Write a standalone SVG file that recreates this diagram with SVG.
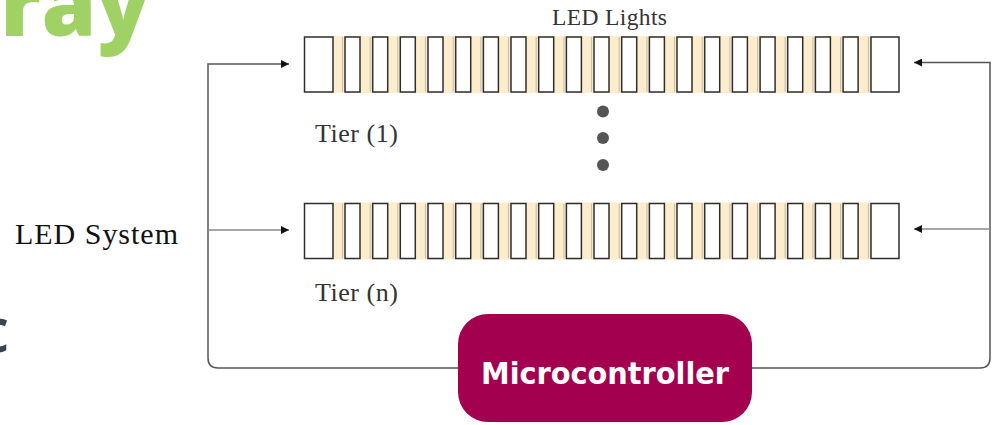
<svg xmlns="http://www.w3.org/2000/svg" xmlns:xlink="http://www.w3.org/1999/xlink" width="994" height="425" viewBox="0 0 994 425">
<style>
.cell{fill:#fff;stroke:#2e2e2e;stroke-width:1.5}
.band{fill:#fcedcc}
.shade{stroke:#cbc3b2;stroke-width:1.2}
.conn{fill:none;stroke:#8a8a8a;stroke-width:1.6}
.loop{fill:none;stroke:#555;stroke-width:1.5}
.serif{font-family:"Liberation Serif","Times New Roman",serif}
.lbl{fill:#333;font-size:26px}
.dot{fill:#555}
</style>
<defs>
<marker id="ah" viewBox="0 0 10 10" refX="10" refY="5" markerWidth="9" markerHeight="8" markerUnits="userSpaceOnUse" orient="auto">
<path d="M0,0 L10,5 L0,10 z" fill="#111"/>
</marker>
<g id="strip">
<rect class="band" x="333" y="-1" width="538" height="57"/>
<g class="shade">
<line x1="342.5" y1="0" x2="342.5" y2="55"/><line x1="370.2" y1="0" x2="370.2" y2="55"/><line x1="397.8" y1="0" x2="397.8" y2="55"/><line x1="425.5" y1="0" x2="425.5" y2="55"/><line x1="453.2" y1="0" x2="453.2" y2="55"/><line x1="480.9" y1="0" x2="480.9" y2="55"/><line x1="508.5" y1="0" x2="508.5" y2="55"/><line x1="536.2" y1="0" x2="536.2" y2="55"/><line x1="563.9" y1="0" x2="563.9" y2="55"/><line x1="591.5" y1="0" x2="591.5" y2="55"/><line x1="619.2" y1="0" x2="619.2" y2="55"/><line x1="646.9" y1="0" x2="646.9" y2="55"/><line x1="674.5" y1="0" x2="674.5" y2="55"/><line x1="702.2" y1="0" x2="702.2" y2="55"/><line x1="729.9" y1="0" x2="729.9" y2="55"/><line x1="757.6" y1="0" x2="757.6" y2="55"/><line x1="785.2" y1="0" x2="785.2" y2="55"/><line x1="812.9" y1="0" x2="812.9" y2="55"/><line x1="840.6" y1="0" x2="840.6" y2="55"/><line x1="868.5" y1="0" x2="868.5" y2="55"/>
</g>
<rect class="cell" x="304.5" y="0" width="28.5" height="55"/>
<rect class="cell" x="345" y="0" width="15" height="55"/>
<rect class="cell" x="372.7" y="0" width="15" height="55"/>
<rect class="cell" x="400.3" y="0" width="15" height="55"/>
<rect class="cell" x="428" y="0" width="15" height="55"/>
<rect class="cell" x="455.7" y="0" width="15" height="55"/>
<rect class="cell" x="483.4" y="0" width="15" height="55"/>
<rect class="cell" x="511" y="0" width="15" height="55"/>
<rect class="cell" x="538.7" y="0" width="15" height="55"/>
<rect class="cell" x="566.4" y="0" width="15" height="55"/>
<rect class="cell" x="594" y="0" width="15" height="55"/>
<rect class="cell" x="621.7" y="0" width="15" height="55"/>
<rect class="cell" x="649.4" y="0" width="15" height="55"/>
<rect class="cell" x="677" y="0" width="15" height="55"/>
<rect class="cell" x="704.7" y="0" width="15" height="55"/>
<rect class="cell" x="732.4" y="0" width="15" height="55"/>
<rect class="cell" x="760.1" y="0" width="15" height="55"/>
<rect class="cell" x="787.7" y="0" width="15" height="55"/>
<rect class="cell" x="815.4" y="0" width="15" height="55"/>
<rect class="cell" x="843.1" y="0" width="15" height="55"/>
<rect class="cell" x="871" y="0" width="28" height="55"/>
</g>
</defs>
<rect width="994" height="425" fill="#fff"/>

<!-- cropped background lettering -->
<text x="150" y="36" text-anchor="end" font-family="'Open Sans','Noto Sans',sans-serif" font-weight="800" font-size="88" fill="#9fd164">ray</text>
<text x="9" y="352" text-anchor="end" font-family="'Open Sans','Noto Sans',sans-serif" font-weight="600" font-size="62" fill="#3d4550">c</text>

<g id="connectors">
<path class="loop" d="M458,368 H218 Q208,368 208,358 V64 H289" marker-end="url(#ah)"/>
<path class="conn" d="M208,230 H289" marker-end="url(#ah)"/>
<path class="loop" d="M752,368 H980 Q990,368 990,358 V62.5 H914" marker-end="url(#ah)"/>
<path class="conn" d="M990,229 H914" marker-end="url(#ah)"/>
</g>

<g id="tier1">
<use xlink:href="#strip" href="#strip" x="0" y="37"/>
<text class="serif lbl" x="315" y="142" textLength="83">Tier (1)</text>
</g>

<g id="ellipsis">
<circle class="dot" cx="603" cy="111.5" r="6"/>
<circle class="dot" cx="603" cy="138" r="6"/>
<circle class="dot" cx="603" cy="165" r="6"/>
</g>

<g id="tierN">
<use xlink:href="#strip" href="#strip" x="0" y="203.5"/>
<text class="serif lbl" x="315" y="301" textLength="83">Tier (n)</text>
</g>

<g id="led-lights-label">
<text class="serif" x="552" y="25" font-size="23.5" fill="#333" textLength="115">LED Lights</text>
</g>

<g id="led-system">
<text class="serif" x="15" y="244" font-size="30" fill="#111" textLength="163">LED System</text>
</g>

<g id="microcontroller">
<rect x="458" y="314" width="294" height="108" rx="30" ry="30" fill="#a3004f"/>
<text x="605" y="384" text-anchor="middle" font-family="'DejaVu Sans','Liberation Sans',sans-serif" font-weight="bold" font-size="31" fill="#fff" textLength="248" lengthAdjust="spacingAndGlyphs">Microcontroller</text>
</g>
</svg>
